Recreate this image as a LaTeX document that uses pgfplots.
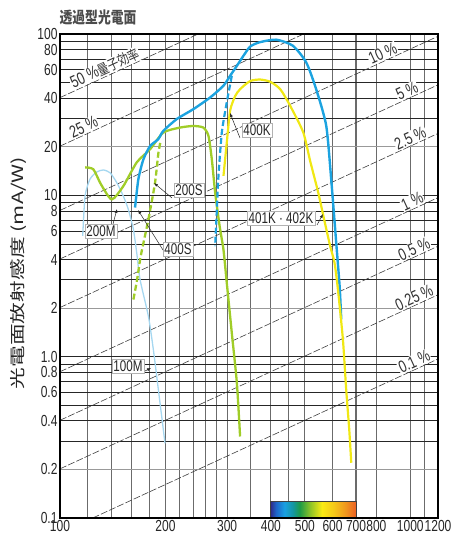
\documentclass[border=0pt]{standalone}
\usepackage{pgfplots}
\pgfplotsset{compat=1.18}
\usepackage{fontspec}
\usetikzlibrary{arrows.meta}
\setmainfont{Liberation Sans}
\newfontfamily\narrowfont{Liberation Sans}[FakeStretch=0.75]
\newfontfamily\cjk{Noto Sans CJK JP}
\newfontfamily\cjkwide{Noto Sans CJK JP}[FakeStretch=1.4]
\newfontfamily\cjknarrow{Noto Sans CJK JP}[FakeStretch=0.8]
\definecolor{cblue}{RGB}{28,163,224}
\definecolor{clblue}{RGB}{165,215,240}
\definecolor{cgreen}{RGB}{160,205,40}
\definecolor{cyellow}{RGB}{240,232,20}
\definecolor{sp1}{RGB}{45,45,140}
\definecolor{sp2}{RGB}{30,100,200}
\definecolor{sp3}{RGB}{25,160,225}
\definecolor{sp4}{RGB}{20,150,160}
\definecolor{sp5}{RGB}{30,155,70}
\definecolor{sp6}{RGB}{140,195,40}
\definecolor{sp7}{RGB}{250,235,20}
\definecolor{sp8}{RGB}{245,200,25}
\definecolor{sp9}{RGB}{240,150,30}
\definecolor{sp10}{RGB}{235,95,35}
\pgfdeclarehorizontalshading{spectrum}{100bp}{color(0bp)=(sp1); color(25bp)=(sp1); color(28bp)=(sp2); color(33bp)=(sp3); color(38bp)=(sp4); color(42bp)=(sp5); color(48bp)=(sp6); color(55bp)=(sp7); color(62bp)=(sp8); color(69bp)=(sp9); color(75bp)=(sp10); color(100bp)=(sp10)}
\tikzset{
  vgrid/.style={draw=black!58, line width=1.1pt},
  hgrid/.style={draw=black!85, line width=0.75pt},
  hgridl/.style={draw=black!40, line width=1.2pt},
  qe/.style={draw=black!75, line width=0.6pt, dash pattern=on 7pt off 2pt},
  qel/.style={sloped, above, yshift=0.4pt, fill=white, inner sep=0.8pt, font=\narrowfont\fontsize{17}{17}\selectfont, text=black!80},
  lab/.style={fill=white, draw=black!30, line width=0.4pt, inner sep=1.5pt, font=\narrowfont\fontsize{15.5}{15.5}\selectfont, text=black!85},
  arr/.style={draw=black!85, line width=0.5pt, -{Latex[length=4pt,width=3pt]}}
}
\begin{document}
\begin{tikzpicture}
\useasboundingbox (0,0) rectangle (452pt,545pt);
\begin{axis}[
  at={(60pt,27pt)}, anchor=south west,
  scale only axis, width=378pt, height=484pt,
  xmode=log, ymode=log,
  xmin=100, xmax=1200, ymin=0.1, ymax=100,
  axis line style={line width=2pt},
  tick style={draw=none},
  minor tick num=0,
  xtick={100,200,300,400,500,600,700,800,1000,1200},
  xticklabels={100,200,300,400,500,600,700,800,1000,1200},
  ytick={0.1,0.2,0.4,0.6,0.8,1,2,4,6,8,10,20,40,60,80,100},
  yticklabels={0.1,0.2,0.4,0.6,0.8,1.0,2,4,6,8,10,20,40,60,80,100},
  ticklabel style={font=\narrowfont\fontsize{16}{16}\selectfont, text=black!85},
  xticklabel style={yshift=1pt},
  yticklabel style={xshift=1pt},
  axis on top,
  no markers,
]
% grid
\pgfplotsinvokeforeach{120,140,160,180,200,220,240,260,280,300,350,400,450,500,600,700,800,1000,1100}{
  \draw[vgrid] (axis cs:#1,0.1) -- (axis cs:#1,100);
}
\pgfplotsinvokeforeach{0.3,0.4,0.5,0.6,0.7,0.8,0.9,1,3,4,5,6,7,8,9,10,30,40,50,60,70,80,90}{
  \draw[hgrid] (axis cs:100,#1) -- (axis cs:1200,#1);
}
\pgfplotsinvokeforeach{0.2,2,20}{
  \draw[hgridl] (axis cs:100,#1) -- (axis cs:1200,#1);
}
% spectrum bar
\shade[shading=spectrum] (axis cs:400,0.1) rectangle (axis cs:700,0.126);
\draw[black!75, line width=0.8pt] (axis cs:400,0.1) |- (axis cs:700,0.126) -- (axis cs:700,0.1);
% quantum efficiency lines
\draw[qe] (axis cs:100,40.33) -- (axis cs:248,100) node[qel, pos=0.35]{50 \%{\cjknarrow\fontsize{14}{14}\selectfont 量子効率}};
\draw[qe] (axis cs:100,20.17) -- (axis cs:496,100) node[qel, pos=0.11]{25 \%};
\draw[qe] (axis cs:100,8.066) -- (axis cs:1200,96.8) node[qel, pos=0.862]{10 \%};
\draw[qe] (axis cs:100,4.033) -- (axis cs:1200,48.4) node[qel, pos=0.926]{5 \%};
\draw[qe] (axis cs:100,2.017) -- (axis cs:1200,24.2) node[qel, pos=0.935]{2.5 \%};
\draw[qe] (axis cs:100,0.8066) -- (axis cs:1200,9.68) node[qel, pos=0.94]{1 \%};
\draw[qe] (axis cs:100,0.4033) -- (axis cs:1200,4.84) node[qel, pos=0.945]{0.5 \%};
\draw[qe] (axis cs:100,0.2017) -- (axis cs:1200,2.42) node[qel, pos=0.945]{0.25 \%};
\draw[qe] (axis cs:124,0.1) -- (axis cs:1200,0.968) node[qel, pos=0.94]{0.1 \%};
% 100M light blue
\addplot[clblue, line width=1.3pt, smooth, tension=0.4] coordinates {
(116.1,5.6) (117.9,9.9) (121.8,12.6) (127.3,13.95) (132.9,14.36) (139,13.8) (145.2,12.0) (151.6,9.9) (156.7,8.18) (162,6.15) (165.6,4.4) (169.3,3.0) (178.8,1.78) (184.8,1.1) (191,0.62) (199.5,0.29)};
% 200M green
\addplot[cgreen, line width=2.3pt, smooth, tension=0.4] coordinates {
(117.9,14.9) (124.5,14.5) (130.9,11.7) (140.5,9.44) (151.6,11.4) (165.6,16) (180.8,19.3) (197.3,24.5) (220.2,26.3) (240.2,26.9) (256.6,26.3) (265.3,23.4) (271.3,16.7) (277.3,10.4) (285.6,6.44) (292.9,4.6) (299.3,2.87) (309.4,1.4) (319.8,0.69) (326.7,0.32)};
% 200S green dashed
\addplot[cgreen, line width=2.3pt, dash pattern=on 6pt off 3pt, smooth, tension=0.4] coordinates {
(162,2.26) (166,3.0) (170,4.2) (178.6,7.0) (186.7,11.9) (190.9,18.2) (194,22)};
% 400S blue
\addplot[cblue, line width=2.4pt, smooth, tension=0.4] coordinates {
(163.8,8.4) (167.4,12.6) (173,16.7) (180.8,20.2) (190.8,22.3) (197.3,25.1) (215.5,29.7) (240.2,34.2) (268.3,40.4) (292.9,47.8) (306,55.1) (319.6,63.3) (334,73.3) (349,83.5) (371,88.8) (414,92.2) (462,84.6) (504.5,66.7) (538.6,45.5) (575.5,27) (594.6,12.6) (614.6,5.08) (628.5,2.73) (635.3,1.7)};
% 400K blue dashed
\addplot[cblue, line width=2.2pt, dash pattern=on 6pt off 3pt, smooth, tension=0.4] coordinates {
(309.4,55.1) (299.3,37.7) (289.7,24.5) (283.4,13.2) (280.4,8.18) (277.3,4.84)};
% 401K/402K yellow
\addplot[cyellow, line width=2.2pt, smooth, tension=0.4] coordinates {
(292.9,13.2) (299.3,21.2) (306,33.5) (316.2,41.2) (326.7,45.5) (349,51.1) (372.8,52.2) (398,50.6) (425.3,45.5) (454,35.9) (494.6,24.6) (517.9,16.3) (546,10.4) (567.6,7.1) (590.7,4.84) (607.7,3.82) (621.5,2.61) (642.3,1.275) (656.4,0.62) (669.6,0.352) (678.4,0.22)};
\end{axis}
% curve labels
\node[lab] at (257pt,415pt) {400K};
\draw[arr] (240pt,407pt) -- (230pt,432pt);
\node[lab] at (281pt,327pt) {401K · 402K};
\draw[arr] (317pt,320pt) -- (323pt,331pt);
\draw[arr] (172pt,347pt) -- (154pt,362pt);
\node[lab] at (189pt,355pt) {200S};
\draw[arr] (113pt,321pt) -- (117pt,336pt);
\node[lab] at (101pt,314pt) {200M};
\draw[arr] (163pt,295pt) -- (138pt,335pt);
\node[lab] at (178pt,296pt) {400S};
\draw[arr] (143pt,173pt) -- (151pt,177pt);
\node[lab] at (128pt,179pt) {100M};
% title and y label
\node[font=\cjknarrow\bfseries\fontsize{16}{16}\selectfont, text=black!70] at (98pt,528pt) {透過型光電面};
\node[rotate=90, font=\cjkwide\fontsize{15.5}{15.5}\selectfont, text=black!85] at (18pt,272pt) {光電面放射感度 (mA/W)};
\end{tikzpicture}
\end{document}
